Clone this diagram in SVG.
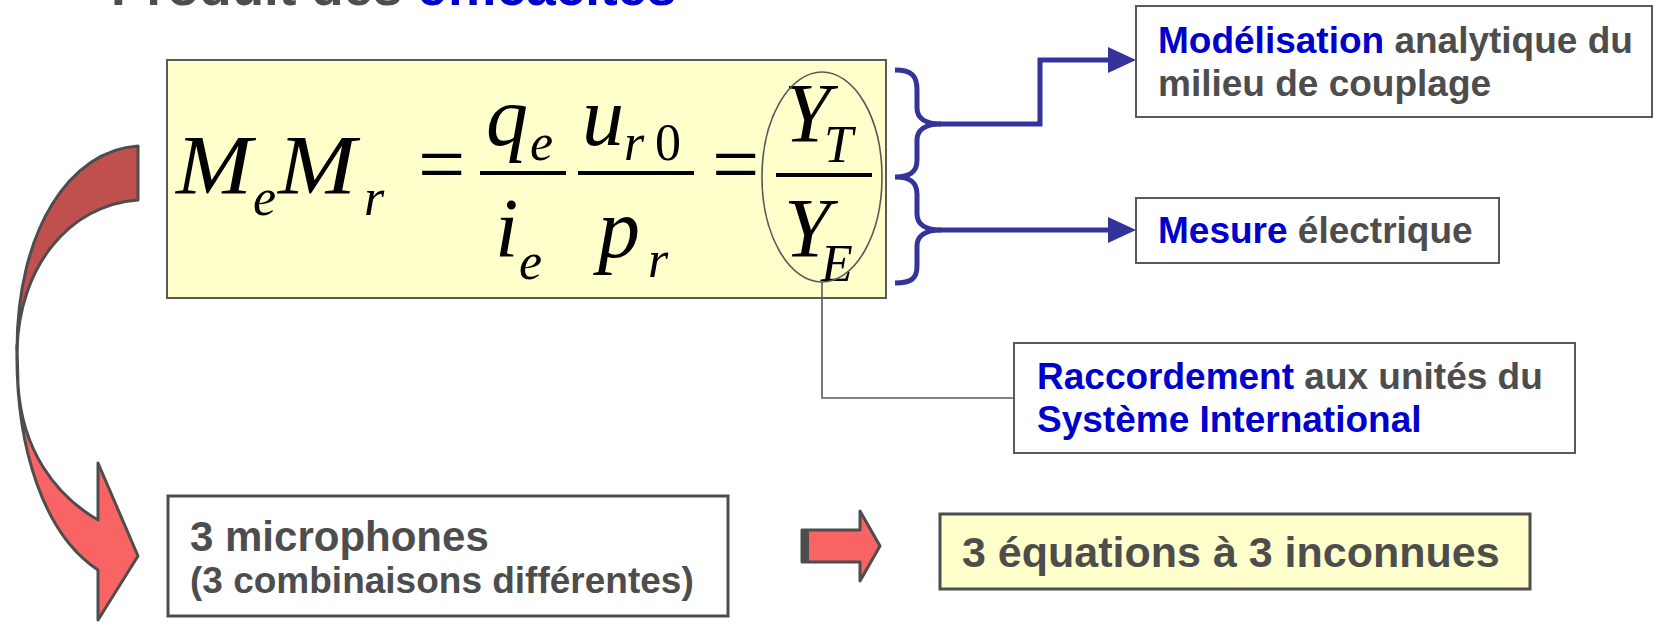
<svg xmlns="http://www.w3.org/2000/svg" width="1654" height="622" viewBox="0 0 1654 622">
<style>
.t{font-family:"Liberation Sans",Arial,sans-serif;font-weight:bold;fill:#4D4D4D}
.b{fill:#0000CC}
.m{font-family:"Liberation Serif","Times New Roman",serif;font-style:italic;fill:#000}
.mu{font-family:"Liberation Serif","Times New Roman",serif;fill:#000}
.big{font-size:84px}
.sub{font-size:52px}
.box{fill:#FFFFFF;stroke:#595959;stroke-width:2}
.ybox{fill:#FFFFCC;stroke:#595959;stroke-width:2}
.thick{stroke:#4D4D4D;stroke-width:3}
.blue{fill:none;stroke:#333399;stroke-width:5}
.head{fill:#333399}
.gl{fill:none;stroke:#595959;stroke-width:1.6}
.ar{stroke:#4D4D4D;stroke-width:3;stroke-linejoin:round}
</style>

<g id="title">
<text class="t" x="111" y="5" font-size="53">Produit des <tspan class="b">efficacités</tspan></text>
</g>

<g id="formula">
<rect class="ybox" x="167" y="60" width="719" height="238"/>
<text class="m big" x="176" y="194" textLength="76" lengthAdjust="spacingAndGlyphs">M</text>
<text class="m sub" x="253" y="215">e</text>
<text class="m big" x="278" y="194" textLength="78" lengthAdjust="spacingAndGlyphs">M</text>
<text class="m sub" x="364" y="215">r</text>
<text class="mu big" x="418" y="193">=</text>
<rect x="480" y="171" width="86" height="4" fill="#000"/>
<text class="m big" x="486" y="145">q</text>
<text class="m sub" x="530" y="160">e</text>
<text class="m big" x="495" y="257">i</text>
<text class="m sub" x="519" y="279">e</text>
<rect x="578" y="171" width="116" height="4" fill="#000"/>
<text class="m big" x="582" y="145">u</text>
<text class="m sub" x="624" y="160">r</text>
<text class="mu sub" x="655" y="160">0</text>
<text class="m big" x="598" y="257">p</text>
<text class="m sub" x="648" y="277">r</text>
<text class="mu big" x="712" y="193">=</text>
<rect x="776" y="173" width="96" height="4" fill="#000"/>
<text class="m big" x="784" y="142">Y</text>
<text class="m sub" x="824" y="162">T</text>
<text class="m big" x="784" y="257">Y</text>
<text class="m sub" x="821" y="281">E</text>
<ellipse class="gl" cx="822" cy="177" rx="60" ry="105"/>
</g>

<g id="modelisation">
<rect class="box" x="1136" y="6" width="516" height="111"/>
<text class="t" x="1158" y="53" font-size="37"><tspan class="b">Modélisation</tspan> analytique du</text>
<text class="t" x="1158" y="96" font-size="37">milieu de couplage</text>
</g>

<g id="mesure">
<rect class="box" x="1136" y="198" width="363" height="65"/>
<text class="t" x="1158" y="243" font-size="37"><tspan class="b">Mesure</tspan> électrique</text>
</g>

<g id="raccordement">
<rect class="box" x="1014" y="343" width="561" height="110"/>
<text class="t" x="1037" y="389" font-size="37"><tspan class="b">Raccordement</tspan> aux unités du</text>
<text class="t b" x="1037" y="432" font-size="37">Système International</text>
</g>

<g id="microphones">
<rect class="box thick" x="168" y="496" width="560" height="120"/>
<text class="t" x="190" y="551" font-size="42">3 microphones</text>
<text class="t" x="190" y="593" font-size="37">(3 combinaisons différentes)</text>
</g>

<g id="equations">
<rect class="ybox thick" x="940" y="514" width="590" height="75"/>
<text class="t" x="962" y="567" font-size="43">3 équations à 3 inconnues</text>
</g>

<g id="connectors">
<path class="blue" d="M895,70 C912,70 917,76 917,90 L917,108 C917,118 925,124 941,124 C925,124 917,130 917,140 L917,160 C917,172 910,177 895,177 C910,177 917,182 917,194 L917,214 C917,224 925,230 941,230 C925,230 917,236 917,246 L917,266 C917,278 912,283 895,283"/>
<path class="blue" d="M939,124 H1040 V60 H1112"/>
<polygon class="head" points="1108,47 1136,60 1108,73"/>
<path class="blue" d="M939,230 H1112"/>
<polygon class="head" points="1108,217 1136,230 1108,243"/>
<path class="gl" d="M822,282 V398 H1014"/>
<path class="ar" fill="#C0504D" d="M138,146 C70,150 17,230 17,350 C19,268 68,205 138,200 Z"/>
<path class="ar" fill="#F86464" d="M17,345 C15,450 45,535 98,570 L98,620 L138,556 L98,463 L98,520 C55,495 22,450 18,385 Z"/>
<path class="ar" fill="#F86464" d="M802,530 H860 V511 L880,546 L860,581 V562 H802 Z"/>
<rect x="802" y="530" width="7" height="32" fill="#4D4D4D"/>
</g>
</svg>
